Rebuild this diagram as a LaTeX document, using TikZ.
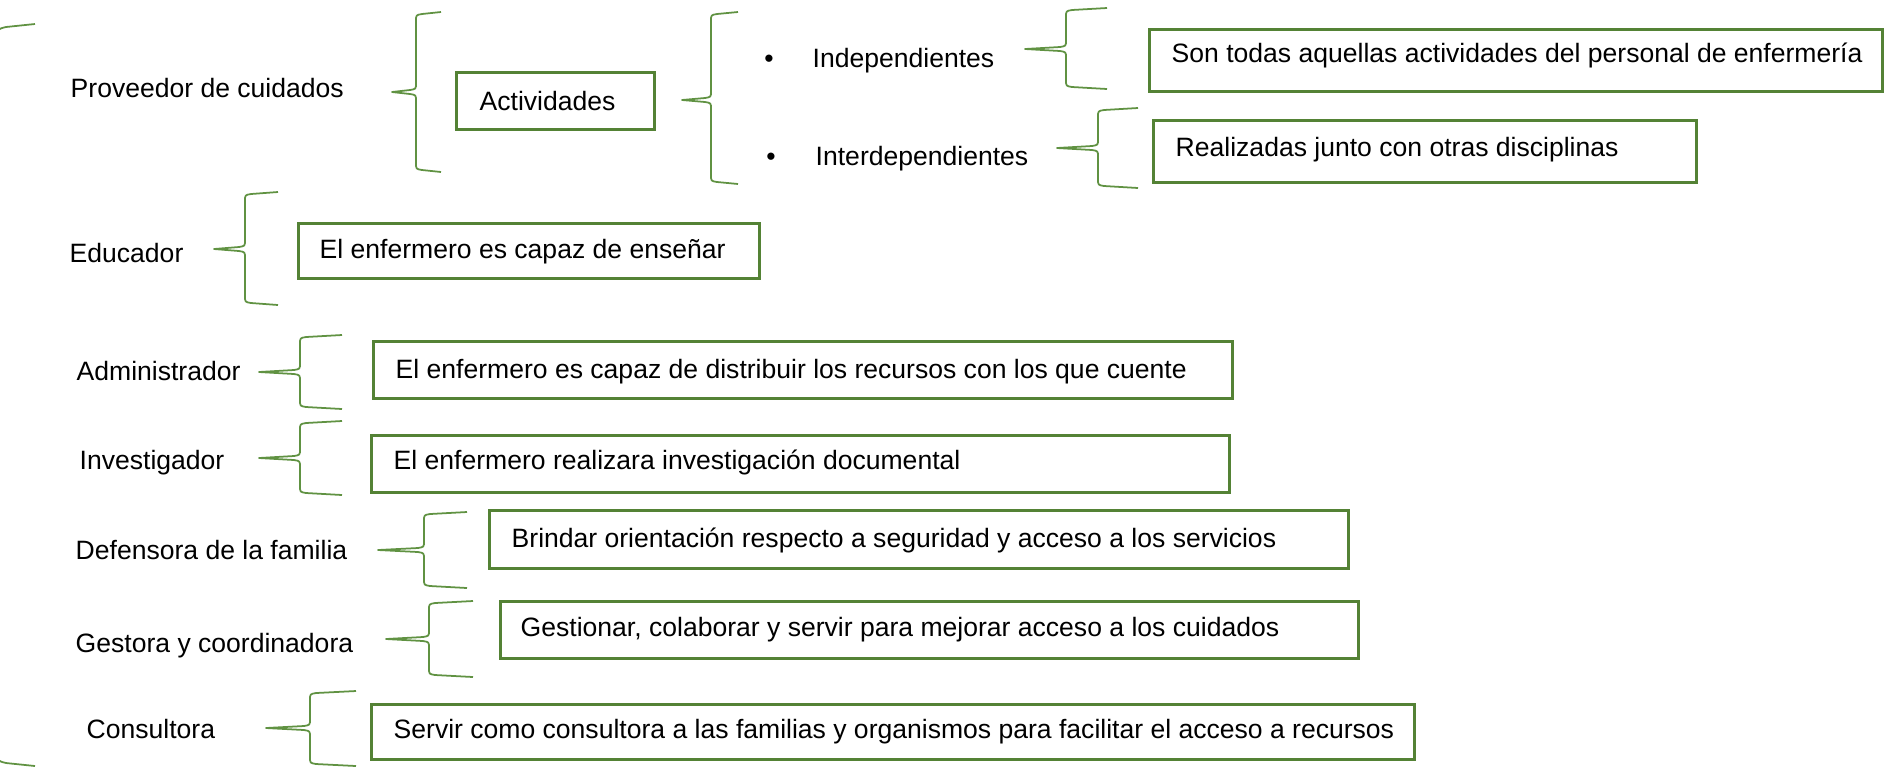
\documentclass[tikz,border=0pt]{standalone}
\usepackage{fontspec}
\setmainfont{Liberation Sans}
\usetikzlibrary{fit}
\definecolor{boxgreen}{RGB}{84,130,53}
\definecolor{bracegreen}{RGB}{96,146,66}
\tikzset{
  box/.style={draw=boxgreen, line width=0.85pt, inner sep=0pt},
  txt/.style={inner sep=0pt, anchor=base west, font=\fontsize{7.55pt}{9pt}\selectfont},
  bul/.style={inner sep=0pt, anchor=base, font=\fontsize{7.55pt}{9pt}\selectfont},
  bracestyle/.style={draw=bracegreen, line width=0.5pt, line join=round},
}
% xend, xspine, xtip, ytop, ytip, ybot
\newcommand{\mybrace}[6]{%
  \draw[bracestyle] (#1,#4) -- (#2+6,#4+2) .. controls (#2,#4+3) .. (#2,#4+9)
    -- (#2,#5-9) .. controls (#2,#5-3) .. (#2-6,#5-2) -- (#3,#5)
    -- (#2-6,#5+2) .. controls (#2,#5+3) .. (#2,#5+9)
    -- (#2,#6-9) .. controls (#2,#6-3) .. (#2+6,#6-2) -- (#1,#6);
}
\begin{document}
\begin{tikzpicture}[x=0.01cm, y=-0.01cm]
\useasboundingbox (0,0) rectangle (1889,772);
\clip (0,0) rectangle (1889,772);

% big outer brace (tip beyond the left edge)
\draw[bracestyle] (35,24) -- (6,27) .. controls (-2,29) .. (-4,36) -- (-4,754) .. controls (-2,761) .. (6,763) -- (35,766);

% row: Proveedor de cuidados
\node[txt] (prov) at (70,97) {Proveedor de cuidados};
\mybrace{441}{416}{392}{12}{92}{172}
\node[box, fit={(456,72) (654,129)}] (actbox) {};
\node[txt] (act) at (479,110) {Actividades};
\mybrace{738}{711}{682}{12}{100}{184}
\node[bul] (bul1) at (769,67) {•};
\node[txt] (indep) at (812,67) {Independientes};
\node[bul] (bul2) at (771,165) {•};
\node[txt] (inter) at (815,165) {Interdependientes};
\mybrace{1107}{1066}{1025}{8}{49}{89}
\node[box, fit={(1149,29) (1882,91)}] (sonbox) {};
\node[txt] (son) at (1171,62) {Son todas aquellas actividades del personal de enfermería};
\mybrace{1138}{1098}{1057}{108}{148}{188}
\node[box, fit={(1153,120) (1696,182)}] (realbox) {};
\node[txt] (real) at (1175,156) {Realizadas junto con otras disciplinas};

% Educador
\node[txt] (edu) at (69,262) {Educador};
\mybrace{278}{245}{214}{192}{249}{305}
\node[box, fit={(298,223) (759,278)}] (edubox) {};
\node[txt] (edut) at (319,258) {El enfermero es capaz de enseñar};

% Administrador
\node[txt] (adm) at (76,380) {Administrador};
\mybrace{342}{300}{259}{335}{372}{409}
\node[box, fit={(373,341) (1232,398)}] (admbox) {};
\node[txt] (admt) at (395,378) {El enfermero es capaz de distribuir los recursos con los que cuente};

% Investigador
\node[txt] (inv) at (79,469) {Investigador};
\mybrace{342}{300}{259}{421}{458}{495}
\node[box, fit={(371,435) (1229,492)}] (invbox) {};
\node[txt] (invt) at (393,469) {El enfermero realizara investigación documental};

% Defensora de la familia
\node[txt] (def) at (75,559) {Defensora de la familia};
\mybrace{467}{424}{378}{512}{550}{588}
\node[box, fit={(489,510) (1348,568)}] (defbox) {};
\node[txt] (deft) at (511,547) {Brindar orientación respecto a seguridad y acceso a los servicios};

% Gestora y coordinadora
\node[txt] (ges) at (75,652) {Gestora y coordinadora};
\mybrace{473}{429}{386}{601}{639}{677}
\node[box, fit={(500,601) (1358,658)}] (gesbox) {};
\node[txt] (gest) at (520,636) {Gestionar, colaborar y servir para mejorar acceso a los cuidados};

% Consultora
\node[txt] (con) at (86,738) {Consultora};
\mybrace{356}{310}{266}{691}{728}{766}
\node[box, fit={(371,704) (1414,759)}] (conbox) {};
\node[txt] (cont) at (393,738) {Servir como consultora a las familias y organismos para facilitar el acceso a recursos};
\end{tikzpicture}
\end{document}
